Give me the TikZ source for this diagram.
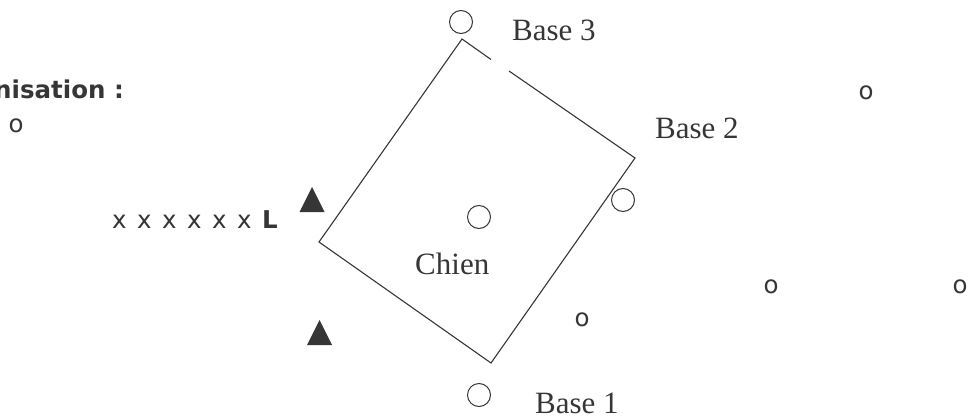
\documentclass[tikz,border=0pt]{standalone}
\usepackage{fontspec}
\setmainfont{Liberation Serif}
\newfontfamily\verd{DejaVu Sans}
\definecolor{ink}{HTML}{363636}
\begin{document}
\begin{tikzpicture}[x=1pt,y=-1pt,
  lbl/.style={font=\fontsize{31}{31}\selectfont,text=ink,anchor=base west,inner sep=0pt},
  dot/.style={font=\verd\fontsize{24.5}{24.5}\selectfont,text=ink,inner sep=0pt},
  ball/.style={circle,draw=ink,line width=1pt,minimum size=23pt,inner sep=0pt},
  cone/.style={fill=ink}]
\useasboundingbox (0,0) rectangle (968,417);
\coordinate (c3) at (462,39);
\coordinate (c2) at (635,158);
\coordinate (c1) at (491,363);
\coordinate (c4) at (319,242);
\draw[ink,line width=1.1pt,line join=miter]
  (491,59.5) -- (c3) -- (c4) -- (c1) -- (c2) -- (509,71);
\node[ball] (b3) at (461,22) {};
\node[ball] (b2) at (623,200) {};
\node[ball] (b1) at (479,395) {};
\node[ball] (dog) at (479,217) {};
\node[lbl] (t3) at (512,41) {Base 3};
\node[lbl] (t2) at (655,139) {Base 2};
\node[lbl] (t1) at (535,413) {Base 1};
\node[lbl] (tdog) at (415,274) {Chien};
\fill[cone] (312,187) -- (324.5,212) -- (299.5,212) -- cycle;
\fill[cone] (319.5,320) -- (332,345) -- (307,345) -- cycle;
\node[dot,anchor=base west] (line) at (112,228)
  {\spaceskip=10.5pt x x x x x x \textbf{L}};
\node[dot,anchor=base west] (title) at (-6,99) {\textbf{nisation :}};
\node[dot] (o1) at (16,125.5) {o};
\node[dot] (o2) at (866,92.5) {o};
\node[dot] (o3) at (771,287) {o};
\node[dot] (o4) at (960,287) {o};
\node[dot] (o5) at (582,319.5) {o};
\end{tikzpicture}
\end{document}
